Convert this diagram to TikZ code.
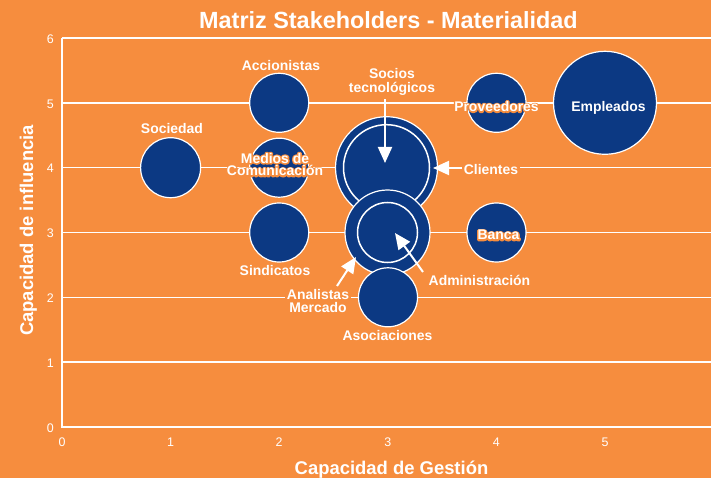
\documentclass[tikz,border=0pt]{standalone}
\usepackage{fontspec}
\setmainfont{Liberation Sans}
\usetikzlibrary{arrows.meta}
\definecolor{bgorange}{RGB}{246,141,62}
\definecolor{dotblue}{RGB}{12,57,131}
\newcommand\halotext[1]{\rlap{\color{bgorange}\special{pdf:literal direct 1 Tr 2.8 w 1 j}#1\special{pdf:literal direct 0 Tr}}#1}
\begin{document}
\begin{tikzpicture}[x=1bp,y=-1bp,
  grid/.style={white,line width=1.5bp},
  axisline/.style={white,line width=2.6bp},
  bubble/.style={circle,fill=dotblue,draw=white,line width=1.2bp,inner sep=0pt,minimum size=#1},
  ring/.style={circle,draw=white,line width=1.5bp,inner sep=0pt,minimum size=#1},
  lbl/.style={text=white,font=\fontsize{14}{14}\selectfont\bfseries,inner sep=0pt,anchor=base},
  boxlbl/.style={lbl,fill=bgorange,inner sep=1.5bp},
  ticklbl/.style={text=white,font=\fontsize{12.5}{12.5}\selectfont,inner sep=0pt},
  axlbl/.style={text=white,font=\fontsize{18.5}{18.5}\selectfont\bfseries,inner sep=0pt,anchor=base},
  arr/.style={white,line width=2bp,-{Triangle[length=16bp,width=14bp]}},
]
\useasboundingbox (0,0) rectangle (711,478);
\fill[bgorange] (0,0) rectangle (711,478);

% grid
\foreach \v in {1,...,6}{
  \draw[grid] (62,{427-64.83*\v}) -- (711,{427-64.83*\v});
}
\draw[axisline] (62,38) -- (62,427) -- (711,427);

% ticks
\foreach \v in {0,...,6}{
  \node[ticklbl,anchor=east] (yt\v) at (54,{428-64.83*\v}) {\v};
}
\foreach \u in {0,...,5}{
  \node[ticklbl] (xt\u) at ({62+108.6*\u},442) {\u};
}

% title and axis labels
\node[text=white,font=\fontsize{23.5}{23.5}\selectfont\bfseries,inner sep=0pt,anchor=base] (title) at (388.5,29) {Matriz Stakeholders - Materialidad};
\node[axlbl] (xlabel) at (391.5,474) {Capacidad de Gestión};
\node[axlbl,rotate=90] (ylabel) at (33,230.5) {Capacidad de influencia};

% bubbles
\node[bubble=60bp] (sociedad) at (170.6,167.7) {};
\node[bubble=59bp] (accionistas) at (279.2,102.8) {};
\node[bubble=59bp] (medios) at (279.2,167.7) {};
\node[bubble=59bp] (sindicatos) at (279.2,232.5) {};
\node[bubble=102bp] (clientes) at (386.5,167.7) {};
\node[ring=86bp] (clientesring) at (386.5,167.7) {};
\node[bubble=85bp] (admin) at (387.5,232.5) {};
\node[ring=60bp] (adminring) at (387.5,232.5) {};
\node[bubble=59bp] (asociaciones) at (388,297.3) {};
\node[bubble=59bp] (proveedores) at (496.5,102.8) {};
\node[bubble=59bp] (banca) at (496.5,232.5) {};
\node[bubble=103bp] (empleados) at (605,102.8) {};

% labels
\node[lbl] (lsociedad) at (172,134) {Sociedad};
\node[lbl] (laccionistas) at (281,71) {Accionistas};
\node[lbl] (lsocios) at (392,79) {Socios};
\node[lbl] (ltecno) at (392,93) {tecnológicos};
\node[lbl] (lmedios) at (275,163.3) {\halotext{Medios de}};
\node[lbl] (lcomunic) at (275,176) {\halotext{Comunicación}};
\node[lbl] (lsindicatos) at (275,276) {Sindicatos};
\node[lbl] (lproveedores) at (496.5,111.7) {\halotext{Proveedores}};
\node[lbl] (lempleados) at (608.5,111.7) {Empleados};
\node[boxlbl] (lclientes) at (491,174.3) {Clientes};
\node[lbl] (lbanca) at (498.5,240) {\halotext{Banca}};
\node[lbl] (ladmin) at (479.5,285.7) {Administración};
\node[boxlbl] (lanalistas) at (318,299) {Analistas};
\node[boxlbl] (lmercado) at (318,312.3) {Mercado};
\node[lbl] (lasociaciones) at (387.5,340.7) {Asociaciones};

% arrows
\coordinate (sociostip) at (385,163);
\coordinate (clientestip) at (433,168);
\coordinate (admintip) at (395,233);
\coordinate (adminstart) at (423,272);
\coordinate (analtip) at (356,257);
\coordinate (analstart) at (337,286);
\draw[arr,shorten <=3bp] (ltecno.south -| sociostip) -- (sociostip);
\draw[arr] (lclientes.west |- clientestip) -- (clientestip);
\draw[arr] (adminstart) -- (admintip);
\draw[arr] (analstart) -- (analtip);
\end{tikzpicture}
\end{document}
